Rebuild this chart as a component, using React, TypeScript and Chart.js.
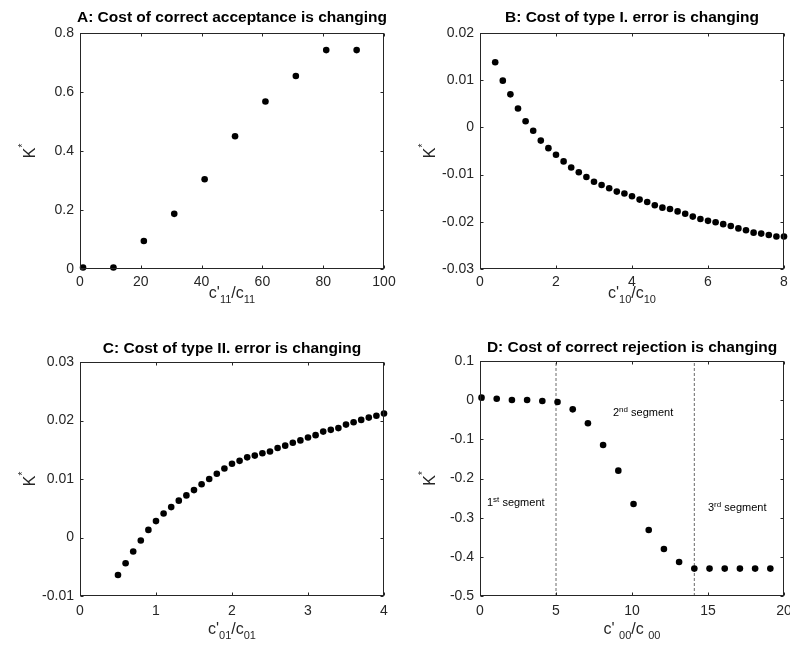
import React, { useEffect, useRef } from "react";
import { Chart, registerables } from "chart.js";
Chart.register(...registerables);

const FONT = '"Liberation Sans", Arial, Helvetica, sans-serif';
const INK = "#262626";

// ---------- Panel A: cost of correct acceptance ----------
const aX = [1, 11, 21, 31, 41, 51, 61, 71, 81, 91];
const aY = [0.005, 0.005, 0.095, 0.187, 0.304, 0.45, 0.568, 0.654, 0.742, 0.742];
const aXRange = [0, 100, 20];
const aYRange = [0, 0.8, 0.2];

// ---------- Panel B: cost of type I error ----------
const bX = [0.4, 0.6, 0.8, 1.0, 1.2, 1.4, 1.6, 1.8, 2.0, 2.2, 2.4, 2.6, 2.8, 3.0, 3.2, 3.4, 3.6, 3.8, 4.0, 4.2,
  4.4, 4.6, 4.8, 5.0, 5.2, 5.4, 5.6, 5.8, 6.0, 6.2, 6.4, 6.6, 6.8, 7.0, 7.2, 7.4, 7.6, 7.8, 8.0];
const bY = [0.0138, 0.0099, 0.007, 0.004, 0.0013, -0.0007, -0.0028, -0.0044, -0.0058, -0.0072,
  -0.0085, -0.0095, -0.0105, -0.0115, -0.0122, -0.0129, -0.0136, -0.014, -0.0146, -0.0153,
  -0.0158, -0.0165, -0.017, -0.0173, -0.0178, -0.0183, -0.0189, -0.0194, -0.0198, -0.0201,
  -0.0205, -0.0209, -0.0214, -0.0218, -0.0223, -0.0225, -0.0228, -0.0231, -0.0231];
const bXRange = [0, 8, 2];
const bYRange = [-0.03, 0.02, 0.01];

// ---------- Panel C: cost of type II error ----------
const cX = [0.5, 0.6, 0.7, 0.8, 0.9, 1.0, 1.1, 1.2, 1.3, 1.4, 1.5, 1.6, 1.7, 1.8, 1.9, 2.0, 2.1, 2.2,
  2.3, 2.4, 2.5, 2.6, 2.7, 2.8, 2.9, 3.0, 3.1, 3.2, 3.3, 3.4, 3.5, 3.6, 3.7, 3.8, 3.9, 4.0];
const cY = [-0.0064, -0.0044, -0.0024, -0.0005, 0.0013, 0.0028, 0.0041, 0.0052, 0.0063, 0.0072,
  0.0081, 0.0091, 0.01, 0.0109, 0.0118, 0.0126, 0.0131, 0.0137, 0.014, 0.0144,
  0.0147, 0.0153, 0.0157, 0.0162, 0.0166, 0.0171, 0.0175, 0.0181, 0.0184, 0.0187,
  0.0193, 0.0197, 0.0201, 0.0205, 0.0208, 0.0212];
const cXRange = [0, 4, 1];
const cYRange = [-0.01, 0.03, 0.01];

// ---------- Panel D: cost of correct rejection ----------
const dX = [0.1, 1.1, 2.1, 3.1, 4.1, 5.1, 6.1, 7.1, 8.1, 9.1, 10.1, 11.1, 12.1, 13.1, 14.1, 15.1, 16.1, 17.1, 18.1, 19.1];
const dY = [0.0064, 0.0038, 0.0004, 0.0004, -0.0021, -0.0047, -0.0234, -0.0591, -0.1145, -0.18,
  -0.2651, -0.3315, -0.38, -0.4132, -0.43, -0.43, -0.43, -0.43, -0.43, -0.43];
const dXRange = [0, 20, 5];
const dYRange = [-0.5, 0.1, 0.1];
const dBreaks = [5, 14.1];
const dNoteX = [0.46, 8.75, 15.0];
const dNoteY = [-0.263, -0.033, -0.275];
const dNoteNum = ["1", "2", "3"];
const dNoteSup = ["st", "nd", "rd"];

type Part = { t: string; s: number; dy: number; bold?: boolean };

function drawRich(ctx: CanvasRenderingContext2D, parts: Part[], x: number, y: number, align: "center" | "left") {
  let total = 0;
  const widths = parts.map((p) => {
    ctx.font = `${p.bold ? "bold " : ""}${p.s}px ${FONT}`;
    const w = ctx.measureText(p.t).width;
    total += w;
    return w;
  });
  let cx = align === "center" ? x - total / 2 : x;
  ctx.textAlign = "left";
  parts.forEach((p, i) => {
    ctx.font = `${p.bold ? "bold " : ""}${p.s}px ${FONT}`;
    ctx.fillText(p.t, cx, y + p.dy);
    cx += widths[i];
  });
}

type Spec = {
  left: number; top: number; width: number; height: number;
  area: [number, number, number, number];
  xs: number[]; ys: number[];
  xr: number[]; yr: number[]; ydec: number;
  title: string; xlab: Part[];
  tickPad: number; labOff: number; titleOff: number;
  breaks?: number[];
  notes?: { x: number[]; y: number[]; num: string[]; sup: string[] };
};

function fmt(v: number, dec: number) {
  const r = Number(v.toFixed(dec));
  return (Object.is(r, -0) ? 0 : r).toString();
}

function makePlugin(spec: Spec) {
  return {
    id: "decor",
    afterDraw(chart: any) {
      const { ctx, chartArea: ca, scales } = chart;
      const xs = scales.x, ys = scales.y;
      ctx.save();
      ctx.strokeStyle = INK;
      ctx.lineWidth = 1;
      const L = Math.round(ca.left) + 0.5, R = Math.round(ca.right) - 0.5;
      const T = Math.round(ca.top) + 0.5, B = Math.round(ca.bottom) - 0.5;
      ctx.strokeRect(L, T, R - L, B - T);
      const tl = 3;
      ctx.beginPath();
      xs.ticks.forEach((t: any) => {
        const px = Math.round(xs.getPixelForValue(t.value)) + 0.5;
        ctx.moveTo(px, B); ctx.lineTo(px, B - tl);
        ctx.moveTo(px, T); ctx.lineTo(px, T + tl);
      });
      ys.ticks.forEach((t: any) => {
        const py = Math.round(ys.getPixelForValue(t.value)) + 0.5;
        ctx.moveTo(L, py); ctx.lineTo(L + tl, py);
        ctx.moveTo(R, py); ctx.lineTo(R - tl, py);
      });
      ctx.stroke();

      ctx.fillStyle = "#000";
      ctx.textBaseline = "alphabetic";
      drawRich(ctx, [{ t: spec.title, s: 15.5, dy: 0, bold: true }], (ca.left + ca.right) / 2, ca.top - spec.titleOff, "center");

      ctx.fillStyle = INK;
      drawRich(ctx, spec.xlab, (ca.left + ca.right) / 2, ca.bottom + spec.labOff, "center");

      ctx.save();
      ctx.translate(ca.left - 45, (ca.top + ca.bottom) / 2);
      ctx.rotate(-Math.PI / 2);
      drawRich(ctx, [{ t: "K", s: 16, dy: 0 }, { t: "*", s: 10, dy: -9 }], 0, 0, "center");
      ctx.restore();

      if (spec.notes) {
        const n = spec.notes;
        ctx.fillStyle = "#000";
        ctx.textBaseline = "middle";
        n.x.forEach((vx, i) => {
          drawRich(ctx, [
            { t: n.num[i], s: 11, dy: 0 },
            { t: n.sup[i], s: 8, dy: -3 },
            { t: " segment", s: 11, dy: 0 },
          ], xs.getPixelForValue(vx), ys.getPixelForValue(n.y[i]), "left");
        });
      }
      ctx.restore();
    },
  };
}

function Panel({ spec }: { spec: Spec }) {
  const ref = useRef<HTMLCanvasElement>(null);
  useEffect(() => {
    const [l, t, r, b] = spec.area;
    const datasets: any[] = [
      {
        type: "scatter",
        data: spec.xs.map((x, i) => ({ x, y: spec.ys[i] })),
        pointRadius: 3.3,
        pointBackgroundColor: "#000",
        pointBorderWidth: 0,
        showLine: false,
        clip: false,
      },
    ];
    (spec.breaks || []).forEach((bx) => {
      datasets.push({
        type: "line",
        data: [{ x: bx, y: spec.yr[0] }, { x: bx, y: spec.yr[1] }],
        borderColor: "#6a6a6a",
        borderWidth: 1,
        borderDash: [3, 2],
        pointRadius: 0,
        fill: false,
      });
    });
    const tickFont = { family: FONT, size: 14 };
    const chart = new Chart(ref.current as HTMLCanvasElement, {
      type: "scatter",
      data: { datasets },
      options: {
        animation: false,
        responsive: false,
        maintainAspectRatio: false,
        layout: { padding: { left: 0, top: t, right: spec.width - r, bottom: 0 } },
        plugins: { legend: { display: false }, tooltip: { enabled: false }, title: { display: false } },
        scales: {
          x: {
            type: "linear",
            min: spec.xr[0], max: spec.xr[1],
            grid: { display: false, drawTicks: false },
            border: { display: false },
            ticks: { stepSize: spec.xr[2], font: tickFont, color: INK, padding: spec.tickPad, maxRotation: 0,
              callback: (v: any) => fmt(Number(v), 2) },
            afterFit: (s: any) => { s.height = spec.height - b; },
          },
          y: {
            type: "linear",
            min: spec.yr[0], max: spec.yr[1],
            grid: { display: false, drawTicks: false },
            border: { display: false },
            ticks: { stepSize: spec.yr[2], font: tickFont, color: INK, padding: 6,
              callback: (v: any) => fmt(Number(v), spec.ydec) },
            afterFit: (s: any) => { s.width = l; },
          },
        },
      } as any,
      plugins: [makePlugin(spec) as any],
    });
    return () => chart.destroy();
  }, [spec]);
  return (
    <canvas
      ref={ref}
      width={spec.width}
      height={spec.height}
      style={{ position: "absolute", left: spec.left, top: spec.top, width: spec.width, height: spec.height }}
    />
  );
}

const sub = (t: string): Part => ({ t, s: 11, dy: 5 });
const main = (t: string): Part => ({ t, s: 16, dy: 0 });

const specs: Spec[] = [
  {
    left: 0, top: 0, width: 430, height: 326, area: [80, 33, 384, 269],
    xs: aX, ys: aY, xr: aXRange, yr: aYRange, ydec: 1,
    title: "A: Cost of correct acceptance is changing",
    xlab: [main("c'"), sub("11"), main("/c"), sub("11")],
    tickPad: 5, labOff: 29, titleOff: 11,
  },
  {
    left: 380, top: 0, width: 440, height: 326, area: [100, 33, 404, 269],
    xs: bX, ys: bY, xr: bXRange, yr: bYRange, ydec: 2,
    title: "B: Cost of type I. error is changing",
    xlab: [main("c'"), sub("10"), main("/c"), sub("10")],
    tickPad: 5, labOff: 29, titleOff: 11,
  },
  {
    left: 0, top: 310, width: 430, height: 342, area: [80, 52, 384, 286],
    xs: cX, ys: cY, xr: cXRange, yr: cYRange, ydec: 2,
    title: "C: Cost of type II. error is changing",
    xlab: [main("c'"), sub("01"), main("/c"), sub("01")],
    tickPad: 7, labOff: 38, titleOff: 9,
  },
  {
    left: 380, top: 310, width: 440, height: 342, area: [100, 51, 404, 286],
    xs: dX, ys: dY, xr: dXRange, yr: dYRange, ydec: 1,
    title: "D: Cost of correct rejection is changing",
    xlab: [main("c' "), sub("00"), main("/c "), sub("00")],
    tickPad: 7, labOff: 38, titleOff: 9,
    breaks: dBreaks,
    notes: { x: dNoteX, y: dNoteY, num: dNoteNum, sup: dNoteSup },
  },
];

export default function App() {
  return (
    <div style={{ position: "fixed", left: 0, top: 0, width: 790, height: 652, overflow: "hidden", background: "#fff" }}>
      {specs.map((s, i) => (
        <Panel key={i} spec={s} />
      ))}
    </div>
  );
}
